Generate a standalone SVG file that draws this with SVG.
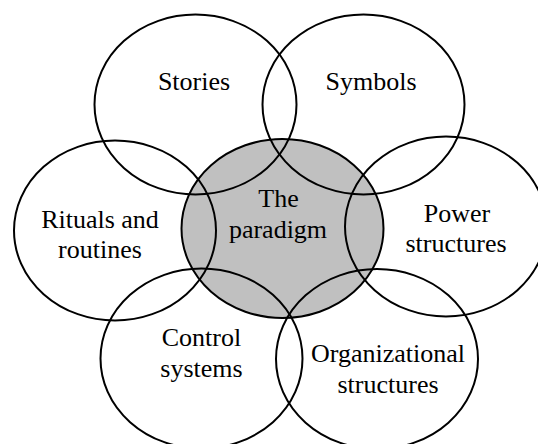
<svg xmlns="http://www.w3.org/2000/svg" width="538" height="444" viewBox="0 0 538 444">
<style>
.ring{fill:none;stroke:#000;stroke-width:2}
.core{fill:#c0c0c0;stroke:#000;stroke-width:2}
text{font-family:"Liberation Serif","Times New Roman",serif;font-size:26px;fill:#000;text-anchor:middle}
</style>
<rect width="538" height="444" fill="#fff"/>
<g id="paradigm"><ellipse class="core" cx="282.5" cy="228.5" rx="101" ry="89.5"/><text x="278.5" y="206.5">The</text><text x="278" y="237.5">paradigm</text></g>
<g id="stories"><ellipse class="ring" cx="195.5" cy="104.5" rx="101" ry="90"/><text x="194" y="90">Stories</text></g>
<g id="symbols"><ellipse class="ring" cx="363.5" cy="104.5" rx="101" ry="90"/><text x="371" y="89.5">Symbols</text></g>
<g id="rituals"><ellipse class="ring" cx="115" cy="230.5" rx="101" ry="90"/><text x="100" y="227.5">Rituals and</text><text x="100" y="257.5">routines</text></g>
<g id="power"><ellipse class="ring" cx="446" cy="226.5" rx="101" ry="90"/><text x="457" y="221.5">Power</text><text x="456" y="251.5">structures</text></g>
<g id="control"><ellipse class="ring" cx="201.5" cy="358.5" rx="101" ry="90"/><text x="201.5" y="346">Control</text><text x="201.5" y="376.5">systems</text></g>
<g id="organizational"><ellipse class="ring" cx="377" cy="359" rx="101" ry="90"/><text x="388" y="362">Organizational</text><text x="388" y="392.5">structures</text></g>
<g id="connectors"></g>
</svg>
